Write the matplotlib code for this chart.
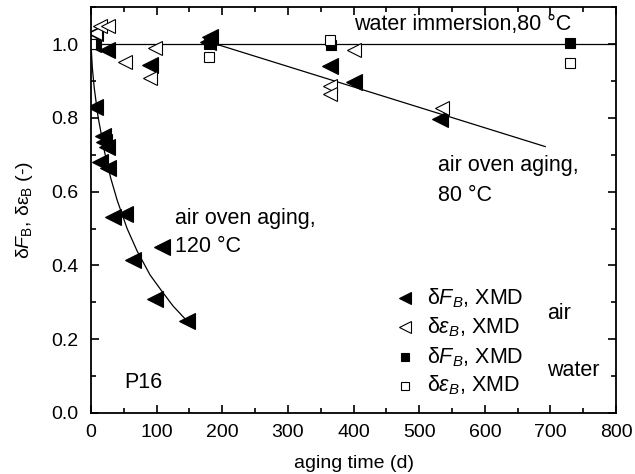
import numpy as np
import matplotlib
matplotlib.use("Agg")
import matplotlib.pyplot as plt
from matplotlib.ticker import MultipleLocator

plt.rcParams['font.family'] = ['Liberation Sans', 'DejaVu Sans']
plt.rcParams['mathtext.fontset'] = 'custom'
plt.rcParams['mathtext.rm'] = 'Liberation Sans'
plt.rcParams['mathtext.it'] = 'Liberation Sans:italic'

# air aging, force at break (filled triangles)
air_F_t = [3, 6, 24, 90, 6, 18, 20, 24, 14, 26, 34, 52, 64, 108, 98, 146, 178, 181, 364, 400, 532]
air_F_y = [1.0, 1.03, 0.985, 0.943, 0.83, 0.75, 0.735, 0.72, 0.68, 0.665, 0.53, 0.54,
           0.415, 0.45, 0.31, 0.25, 1.005, 1.02, 0.94, 0.898, 0.797]
# air aging, strain at break (open triangles)
air_e_t = [6, 14, 26, 52, 98, 90, 400, 364, 364, 535]
air_e_y = [1.03, 1.05, 1.05, 0.952, 0.99, 0.908, 0.985, 0.885, 0.865, 0.826]
# water immersion (squares)
wat_F_t = [0, 180, 365, 730]
wat_F_y = [1.0, 1.0, 0.998, 1.003]
wat_e_t = [0, 180, 364, 730]
wat_e_y = [1.0, 0.965, 1.011, 0.949]

# fit curves
fit120_t = [0, 2, 5, 11, 21, 30, 40, 55, 70, 90, 108, 125, 146]
fit120_y = [1.0, 0.936, 0.88, 0.80, 0.705, 0.637, 0.576, 0.50, 0.44, 0.374, 0.33, 0.29, 0.25]
fit80_t = [190, 692]
fit80_y = [1.0, 0.722]
water_t = [0, 800]
water_y = [1.0, 1.0]

fig = plt.figure(figsize=(6.35, 4.74), dpi=100)
ax = fig.add_axes([0.1433, 0.1287, 0.827, 0.8563])

lw = 0.9
ax.plot(water_t, water_y, color='black', lw=lw)
ax.plot(fit80_t, fit80_y, color='black', lw=lw)
ax.plot(fit120_t, fit120_y, color='black', lw=lw)

ax.plot(air_F_t, air_F_y, ls='none', marker='<', ms=11, mfc='black', mec='black', mew=0.8)
ax.plot(air_e_t, air_e_y, ls='none', marker='<', ms=10, mfc='white', mec='black', mew=0.8)
ax.plot(wat_F_t, wat_F_y, ls='none', marker='s', ms=7.5, mfc='black', mec='black', mew=0.8)
ax.plot(wat_e_t, wat_e_y, ls='none', marker='s', ms=7.5, mfc='white', mec='black', mew=0.8)

fs = 15.5
# hand-made legend
leg_x_m = 478
leg_x_t = 512
leg_y = [0.311, 0.232, 0.151, 0.074]
leg_mk = ['<', '<', 's', 's']
leg_fc = ['black', 'white', 'black', 'white']
leg_ms = [9, 8, 6, 6]
leg_txt = ['δ$F_B$, XMD', 'δ$\\varepsilon_B$, XMD', 'δ$F_B$, XMD', 'δ$\\varepsilon_B$, XMD']
for yy, mk, fc, ms, tx in zip(leg_y, leg_mk, leg_fc, leg_ms, leg_txt):
    ax.plot([leg_x_m], [yy], ls='none', marker=mk, ms=ms, mfc=fc, mec='black', mew=0.8)
    ax.text(leg_x_t, yy, tx, fontsize=fs, va='center', ha='left')
ax.text(695, 0.27, 'air', fontsize=fs, va='center', ha='left')
ax.text(695, 0.115, 'water', fontsize=fs, va='center', ha='left')

ax.text(400, 1.052, 'water immersion,80 °C', fontsize=fs, va='center', ha='left')
ax.text(529, 0.672, 'air oven aging,', fontsize=fs, va='center', ha='left')
ax.text(529, 0.59, '80 °C', fontsize=fs, va='center', ha='left')
ax.text(128, 0.528, 'air oven aging,', fontsize=fs, va='center', ha='left')
ax.text(128, 0.45, '120 °C', fontsize=fs, va='center', ha='left')
ax.text(50, 0.083, 'P16', fontsize=fs, va='center', ha='left')

ax.set_xlim(0, 800)
ax.set_ylim(0, 1.1)
ax.xaxis.set_major_locator(MultipleLocator(100))
ax.xaxis.set_minor_locator(MultipleLocator(50))
ax.yaxis.set_major_locator(MultipleLocator(0.2))
ax.yaxis.set_minor_locator(MultipleLocator(0.1))
ax.yaxis.set_major_formatter(plt.FuncFormatter(lambda v, p: '%.1f' % v))
ax.tick_params(which='both', direction='in', top=True, right=True, labelsize=14, width=1.2)
ax.tick_params(which='major', length=6)
ax.tick_params(which='minor', length=3.5)
ax.tick_params(axis='x', which='major', pad=8)
ax.tick_params(axis='y', which='major', pad=9)
for s in ax.spines.values():
    s.set_linewidth(1.3)

ax.set_xlabel('aging time (d)', fontsize=14, labelpad=10)
ax.set_ylabel('δ$\\mathit{F}_\\mathrm{B}$, δε$_\\mathrm{B}$ (-)', fontsize=14, labelpad=12)

fig.savefig('out.png', dpi=100)
